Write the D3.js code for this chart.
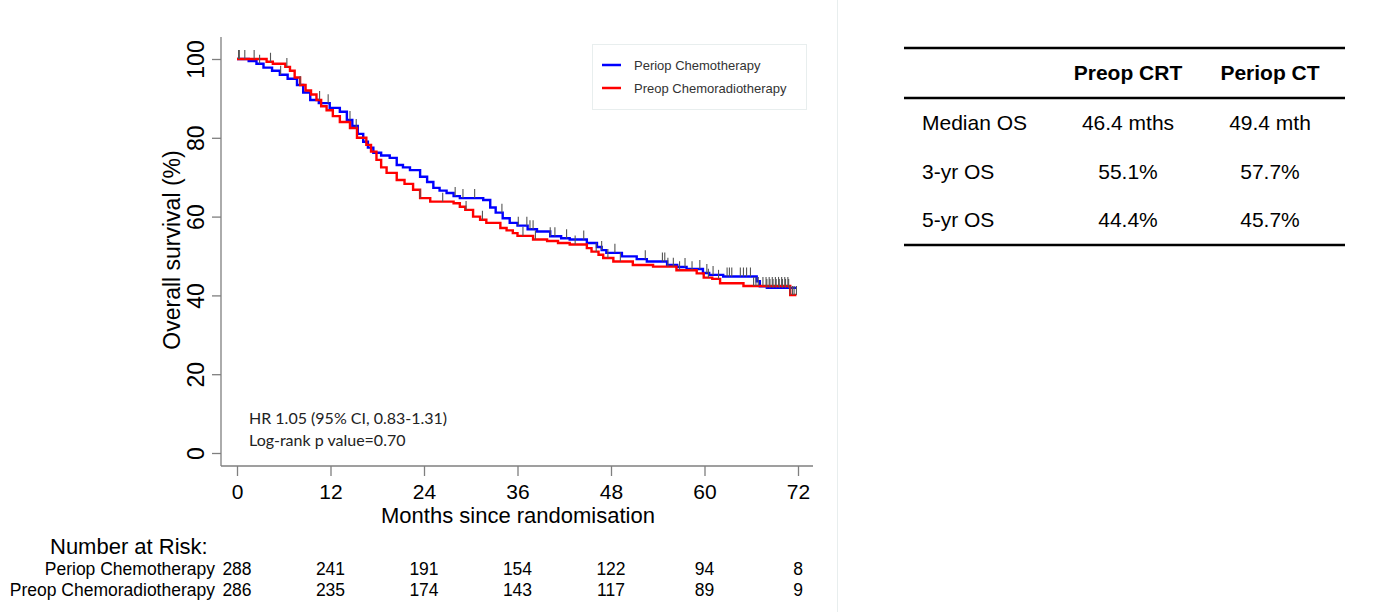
<!DOCTYPE html>
<html><head><meta charset="utf-8">
<script src="https://cdn.jsdelivr.net/npm/d3@7"></script>
<style>
html,body{margin:0;padding:0;background:#fff;}
svg{display:block;font-family:"Liberation Sans",Arial,sans-serif;}
</style></head>
<body>
<svg id="chart" width="1381" height="612"></svg>
<script>
// ---- Data ----
const xTicks = [0, 12, 24, 36, 48, 60, 72];
const yTicks = [0, 20, 40, 60, 80, 100];
const seriesNames = ["Periop Chemotherapy", "Preop Chemoradiotherapy"];
const seriesColors = ["#0000ff", "#ff0000"];

// Periop Chemotherapy KM steps (months, survival %)
const ctTimes = [0, 1.5, 2.5, 3.4, 4.5, 5.5, 6.5, 7.7, 8.5, 9.4, 10.5, 11.9, 13.2, 14.1, 14.8, 15.5, 16.2, 16.8, 17.5, 18.5, 19.6, 20.5, 21.3, 22.2, 23.5, 24.4, 25.2, 26.0, 26.9, 27.8, 28.6, 31.6, 32.5, 33.2, 34.1, 35.0, 36.0, 37.3, 38.5, 40.2, 41.6, 42.7, 44.9, 46.2, 46.8, 47.4, 49.4, 51.3, 52.6, 55.2, 56.5, 57.7, 59.8, 60.6, 62.4, 66.7, 67.1, 68.0, 71.8];
const ctSurv  = [100, 99.5, 98.8, 97.8, 97.0, 96.0, 95.0, 93.4, 91.5, 89.6, 88.8, 87.6, 86.6, 84.5, 83.0, 81.0, 79.0, 77.5, 76.2, 75.5, 74.9, 73.1, 72.5, 71.8, 70.1, 68.8, 67.3, 66.6, 66.0, 65.2, 64.7, 64.2, 62.3, 61.0, 59.6, 58.4, 57.7, 56.8, 56.2, 55.0, 54.5, 54.2, 53.3, 52.3, 51.5, 50.8, 49.9, 49.2, 48.6, 47.7, 47.2, 46.7, 45.7, 45.2, 44.8, 43.6, 42.3, 41.9, 41.9];
const ctCensor = [0.3, 1.0, 2.9, 5.6, 8.1, 11.7, 14.5, 28.0, 29.0, 30.5, 34.0, 36.1, 37.2, 37.6, 38.0, 40.2, 40.8, 42.3, 44.5, 46.8, 48.5, 52.4, 54.6, 54.9, 57.5, 59.4, 60.3, 61.1, 62.9, 63.2, 63.5, 64.6, 65.0, 65.4, 65.9, 68.0, 68.4, 68.8, 69.2, 69.6, 70.0, 70.4, 70.8];

// Preop Chemoradiotherapy KM steps
const crtTimes = [0, 3.8, 4.6, 6.2, 6.8, 7.4, 8.1, 8.8, 9.5, 10.2, 10.8, 11.5, 12.3, 13.2, 14.5, 15.4, 16.6, 17.2, 17.9, 18.5, 19.2, 20.5, 21.5, 22.6, 23.5, 24.8, 27.8, 28.6, 29.3, 30.3, 31.2, 32.0, 33.8, 34.6, 35.4, 36.0, 38.0, 39.8, 41.2, 42.7, 44.9, 45.5, 46.4, 47.0, 48.3, 50.8, 53.4, 56.4, 59.0, 59.9, 61.0, 62.0, 65.0, 71.0, 71.8];
const crtSurv  = [100, 99.3, 98.8, 98.0, 97.0, 95.3, 93.4, 92.0, 91.0, 89.6, 88.0, 87.0, 85.5, 84.0, 82.5, 80.0, 78.2, 76.5, 74.4, 72.5, 71.1, 69.3, 68.3, 66.8, 64.7, 63.8, 63.4, 62.5, 61.7, 60.0, 59.2, 58.4, 57.1, 56.5, 55.8, 55.1, 54.2, 53.8, 53.3, 52.9, 52.0, 51.1, 50.3, 49.5, 48.6, 47.7, 47.3, 46.4, 45.6, 44.5, 44.2, 43.1, 42.4, 40.1, 40.1];
const crtCensor = [0.2, 2.2, 4.3, 6.4, 10.6, 15.3, 23.5, 26.4, 29.4, 31.5, 36.7, 38.3, 43.4, 46.1, 47.6, 49.2, 55.3, 56.0, 56.8, 58.4, 60.5, 61.8, 66.3, 66.6, 66.9, 67.5, 67.9, 68.3, 68.7, 69.1, 69.5, 69.9, 70.3, 70.7, 71.0, 71.3, 71.5, 71.8];

const riskLabels = ["Periop Chemotherapy", "Preop Chemoradiotherapy"];
const riskCT  = [288, 241, 191, 154, 122, 94, 8];
const riskCRT = [286, 235, 174, 143, 117, 89, 9];

const statLines = ["HR 1.05 (95% CI, 0.83-1.31)", "Log-rank p value=0.70"];

const tableHeaders = ["", "Preop CRT", "Periop CT"];
const tableRowLabels = ["Median OS", "3-yr OS", "5-yr OS"];
const tableCRT = ["46.4 mths", "55.1%", "44.4%"];
const tableCT  = ["49.4 mth", "57.7%", "45.7%"];

// ---- Drawing ----
const svg = d3.select("#chart");
const x = d3.scaleLinear().domain([0, 72]).range([237, 798]);
const y = d3.scaleLinear().domain([0, 100]).range([453, 59]);
const axisColor = "#7f7f7f";

// separator
svg.append("line").attr("x1", 837.5).attr("x2", 837.5).attr("y1", 0).attr("y2", 612)
  .attr("stroke", "#e8eeee").attr("stroke-width", 1);

// Y axis
const yAxis = d3.axisLeft(y).tickValues(yTicks).tickSize(9).tickPadding(10);
const gy = svg.append("g").attr("transform", "translate(221,0)").call(yAxis);
gy.select(".domain").remove();
gy.selectAll(".tick line").attr("stroke", axisColor).attr("stroke-width", 1.3);
gy.selectAll(".tick text").attr("font-size", 23).attr("fill", "#000")
  .attr("font-family", "Liberation Sans, Arial, sans-serif")
  .attr("text-anchor", "middle").attr("x", 0).attr("y", 0)
  .attr("transform", "translate(-25,0) rotate(-90)").attr("dy", "0.35em");
svg.append("line").attr("x1", 221).attr("x2", 221).attr("y1", 37).attr("y2", 466)
  .attr("stroke", axisColor).attr("stroke-width", 1.3);

// X axis
const xAxis = d3.axisBottom(x).tickValues(xTicks).tickSize(10).tickPadding(8);
const gx = svg.append("g").attr("transform", "translate(0,466)").call(xAxis);
gx.select(".domain").remove();
gx.selectAll(".tick line").attr("stroke", axisColor).attr("stroke-width", 1.3);
gx.selectAll(".tick text").attr("font-size", 21).attr("fill", "#000")
  .attr("font-family", "Liberation Sans, Arial, sans-serif");
svg.append("line").attr("x1", 221).attr("x2", 813).attr("y1", 466).attr("y2", 466)
  .attr("stroke", axisColor).attr("stroke-width", 1.3);

// axis titles
svg.append("text").attr("x", 518).attr("y", 523).attr("text-anchor", "middle")
  .attr("font-size", 22).text("Months since randomisation");
svg.append("text").attr("transform", "translate(180,250) rotate(-90)").attr("text-anchor", "middle")
  .attr("font-size", 23).text("Overall survival (%)");

// curves
const line = d3.line().x(d => x(d[0])).y(d => y(d[1])).curve(d3.curveStepAfter);
const arms = [
  {t: ctTimes, s: ctSurv, c: ctCensor, color: seriesColors[0]},
  {t: crtTimes, s: crtSurv, c: crtCensor, color: seriesColors[1]}
];
arms.forEach(a => {
  const pts = a.t.map((t, i) => [t, a.s[i]]);
  svg.append("path").datum(pts).attr("d", line).attr("fill", "none")
    .attr("stroke", a.color).attr("stroke-width", 2.4);
});
arms.forEach(a => {
  const stepVal = t => { let v = a.s[0]; for (let i = 0; i < a.t.length; i++) { if (a.t[i] <= t) v = a.s[i]; } return v; };
  svg.append("g").selectAll("line").data(a.c).join("line")
    .attr("x1", d => x(d)).attr("x2", d => x(d))
    .attr("y1", d => y(stepVal(d))).attr("y2", d => y(stepVal(d)) - 9)
    .attr("stroke", "#555").attr("stroke-width", 1.1);
});

// legend
const lg = svg.append("g");
lg.append("rect").attr("x", 592.5).attr("y", 44.5).attr("width", 214).attr("height", 65)
  .attr("fill", "#fff").attr("stroke", "#e8eeee");
seriesNames.forEach((n, i) => {
  const ly = 65 + i * 23;
  lg.append("line").attr("x1", 602).attr("x2", 621).attr("y1", ly).attr("y2", ly)
    .attr("stroke", seriesColors[i]).attr("stroke-width", 2.5);
  lg.append("text").attr("x", 634).attr("y", ly).attr("dy", "0.35em")
    .attr("font-size", 13).attr("fill", "#333").text(n);
});

// stats text
statLines.forEach((s, i) => {
  svg.append("text").attr("x", 249).attr("y", 424 + i * 22)
    .attr("font-family", "Lato, 'Open Sans', sans-serif").attr("font-size", 16)
    .attr("fill", "#222").text(s);
});

// number at risk
svg.append("text").attr("x", 50).attr("y", 554).attr("font-size", 22).text("Number at Risk:");
[riskCT, riskCRT].forEach((row, r) => {
  const ry = 575 + r * 21;
  svg.append("text").attr("x", 215).attr("y", ry).attr("text-anchor", "end")
    .attr("font-size", 17.5).text(riskLabels[r]);
  svg.append("g").selectAll("text").data(row).join("text")
    .attr("x", (d, i) => x(xTicks[i])).attr("y", ry).attr("text-anchor", "middle")
    .attr("font-size", 17.5).text(d => d);
});

// right table
const tg = svg.append("g");
const colX = [922, 1128, 1270];
[48, 98, 245].forEach(ly => {
  tg.append("line").attr("x1", 904).attr("x2", 1345).attr("y1", ly).attr("y2", ly)
    .attr("stroke", "#000").attr("stroke-width", 2.5);
});
tableHeaders.forEach((h, i) => {
  if (!h) return;
  tg.append("text").attr("x", colX[i]).attr("y", 73).attr("dy", "0.35em")
    .attr("text-anchor", "middle").attr("font-weight", "bold").attr("font-size", 21).text(h);
});
tableRowLabels.forEach((lab, r) => {
  const ry = [123, 172, 220][r];
  tg.append("text").attr("x", colX[0]).attr("y", ry).attr("dy", "0.35em").attr("font-size", 21).text(lab);
  tg.append("text").attr("x", colX[1]).attr("y", ry).attr("dy", "0.35em").attr("text-anchor", "middle").attr("font-size", 21).text(tableCRT[r]);
  tg.append("text").attr("x", colX[2]).attr("y", ry).attr("dy", "0.35em").attr("text-anchor", "middle").attr("font-size", 21).text(tableCT[r]);
});
</script>
</body></html>
